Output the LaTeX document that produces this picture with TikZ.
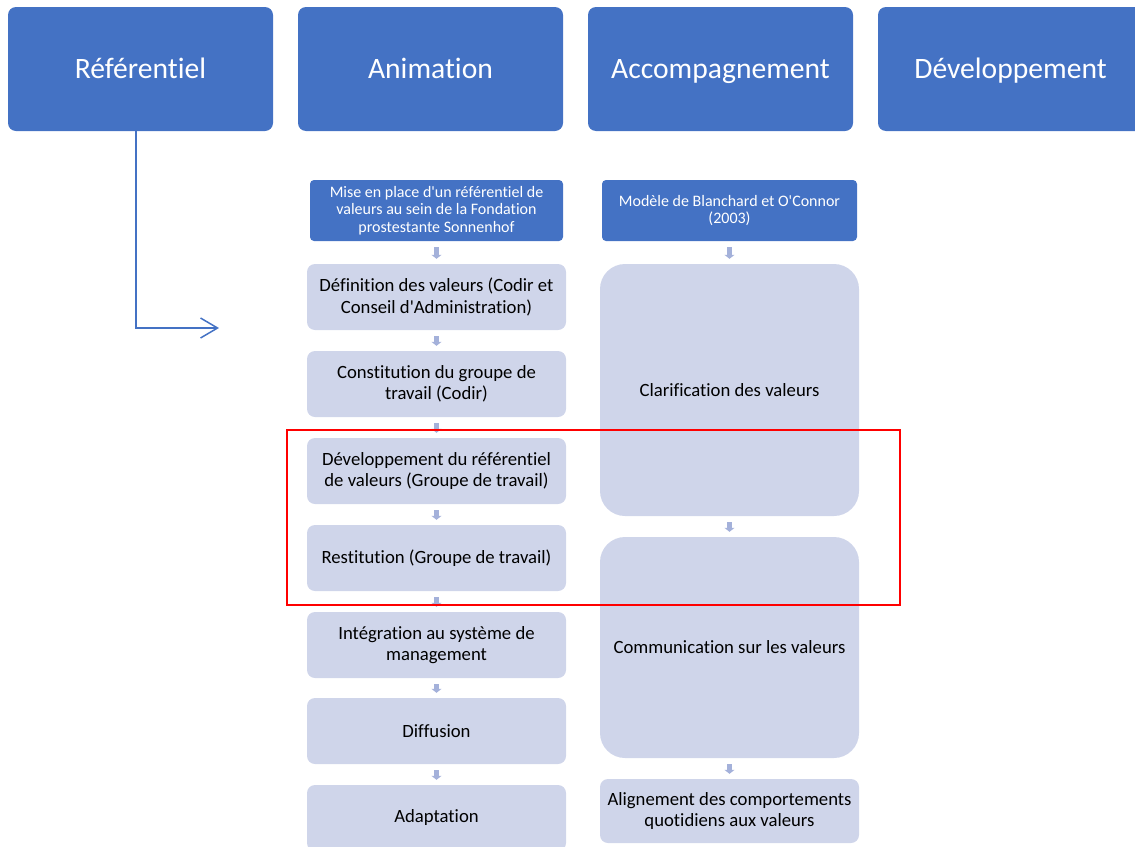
\documentclass[tikz,border=0pt]{standalone}
\usepackage{fontspec}
\setmainfont{Carlito}
\newfontfamily\calib{Carlito}[Ligatures=NoCommon]
\usetikzlibrary{arrows.meta}
\definecolor{hblue}{HTML}{4472C4}
\definecolor{lbox}{HTML}{CFD5EA}
\definecolor{sarrow}{HTML}{A4B1DA}
\begin{document}
\begin{tikzpicture}[x=1pt,y=-1pt,
  head/.style={fill=hblue, rounded corners=8pt, minimum width=265pt, minimum height=124pt, text=white, font=\calib\fontsize{29.6}{34}\selectfont, inner sep=0pt, text height=22pt, text depth=4pt},
  sub/.style={fill=hblue, rounded corners=4pt, text=white, font=\calib\fontsize{16}{17.5}\selectfont, align=center, inner sep=0pt, minimum height=61pt},
  stepbox/.style={fill=lbox, rounded corners=8pt, font=\calib\fontsize{18.7}{21.5}\selectfont, align=center, minimum width=259pt, minimum height=66pt, inner sep=0pt, text=black},
  bigbox/.style={fill=lbox, rounded corners=25pt, font=\calib\fontsize{18.7}{21.5}\selectfont, align=center, minimum width=259pt, inner sep=0pt, text=black},
  sarr/.style={draw=sarrow, line width=5pt, -{Triangle[width=10pt,length=4pt]}, shorten <=6pt, shorten >=5pt},
  link/.style={draw=hblue, line width=1.5pt, -{Straight Barb[length=17pt,width=20pt]}}
]
\useasboundingbox (0,0) rectangle (1135,846);
% headers
\node[head] (ref) at (140.5,69) {Référentiel};
\node[head] (anim) at (430.5,69) {Animation};
\node[head] (acc) at (720.5,69) {Accompagnement};
\node[head] (dev) at (1010.5,69) {Développement};
% animation column
\node[sub, minimum width=253pt] (mise) at (436.5,210.5) {Mise en place d'un référentiel de\\valeurs au sein de la Fondation\\prostestante Sonnenhof};
\node[stepbox] (def) at (436.5,297) {Définition des valeurs (Codir et\\Conseil d'Administration)};
\node[stepbox] (con) at (436.5,384) {Constitution du groupe de\\travail (Codir)};
\node[stepbox] (devr) at (436.5,471) {Développement du référentiel\\de valeurs (Groupe de travail)};
\node[stepbox] (rest) at (436.5,558) {Restitution (Groupe de travail)};
\node[stepbox] (integ) at (436.5,645) {Intégration au système de\\management};
\node[stepbox] (diff) at (436.5,731) {Diffusion};
\node[stepbox] (adap) at (436.5,818) {Adaptation};
% accompagnement column
\node[sub, minimum width=255pt] (mod) at (729.5,210.5) {Modèle de Blanchard et O'Connor\\(2003)};
\node[bigbox, minimum height=252pt] (clar) at (729.5,390) {Clarification des valeurs};
\node[bigbox, minimum height=221pt] (comm) at (729.5,647.5) {Communication sur les valeurs};
\node[stepbox, minimum height=64pt] (alig) at (729.5,811) {Alignement des comportements\\quotidiens aux valeurs};
% small arrows
\draw[sarr] (mise) -- (def);
\draw[sarr] (def) -- (con);
\draw[sarr] (con) -- (devr);
\draw[sarr] (devr) -- (rest);
\draw[sarr] (rest) -- (integ);
\draw[sarr] (integ) -- (diff);
\draw[sarr] (diff) -- (adap);
\draw[sarr] (mod) -- (clar);
\draw[sarr] (clar) -- (comm);
\draw[sarr] (comm) -- (alig);
% connector
\coordinate (refend) at (219,328);
\draw[link] ([xshift=-4.5pt]ref.south) |- (refend);
% highlight
\draw[red, line width=2pt] (287,430) rectangle (900,605);
\end{tikzpicture}
\end{document}
